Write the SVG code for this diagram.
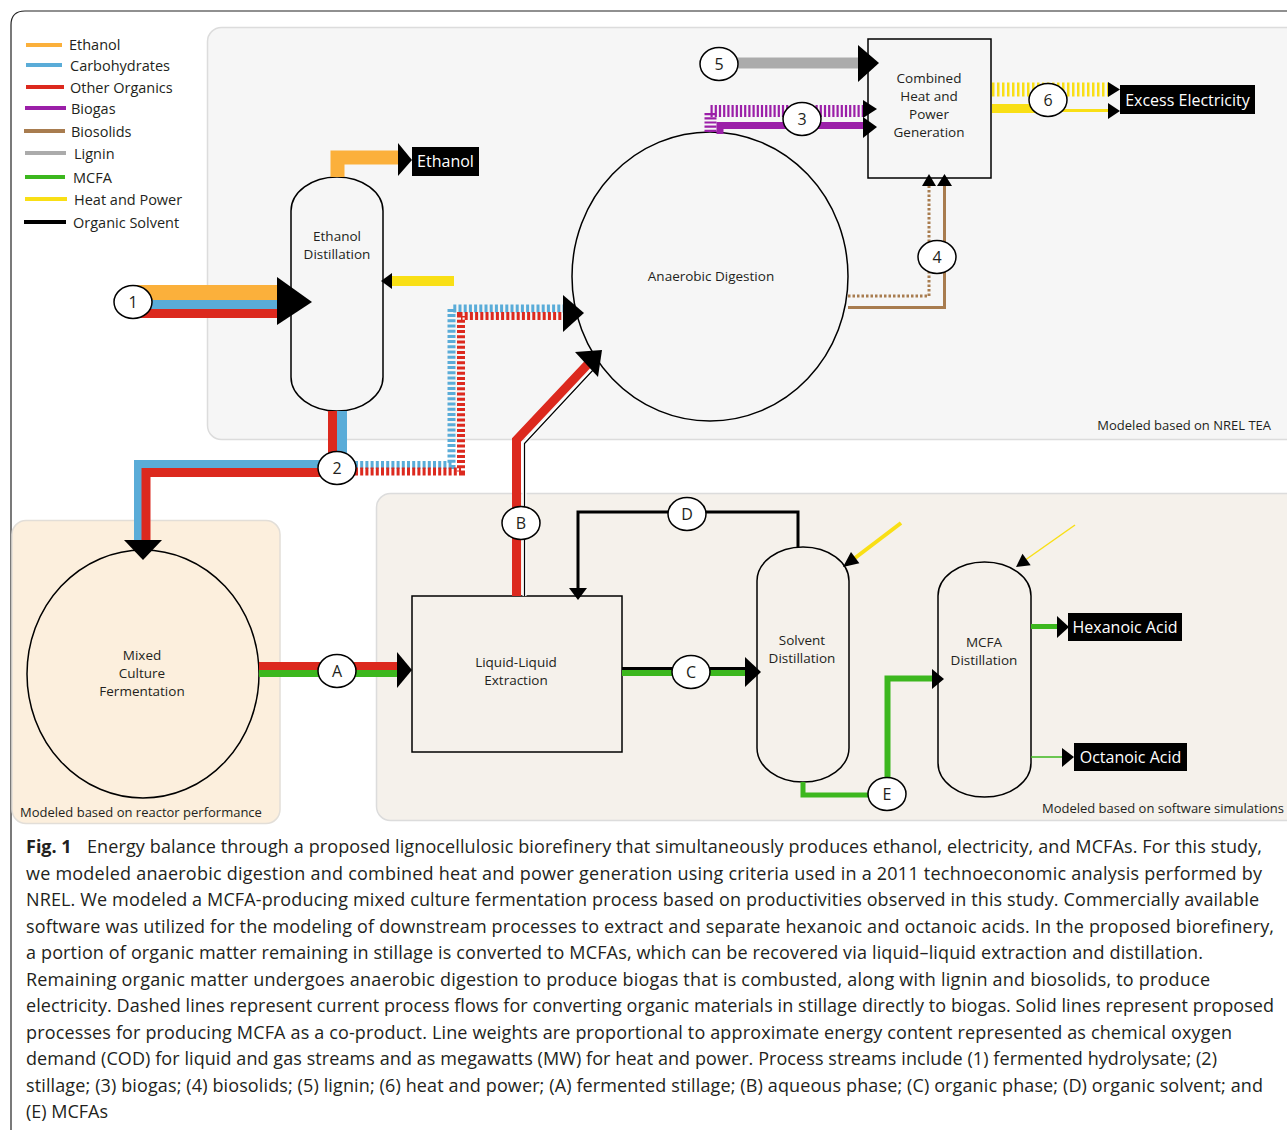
<svg xmlns="http://www.w3.org/2000/svg" width="1287" height="1130" viewBox="0 0 1287 1130">
<defs>
<style>
.t{font-family:"Open Sans","Noto Sans","Liberation Sans",sans-serif;fill:#231f20}
.lab{font-size:13.5px;text-anchor:middle}
.leg{font-size:14.5px}
.num{font-size:16px;text-anchor:middle}
.wb{font-size:16px;fill:#fff}
.cap{font-size:18px}
.node{stroke:#000;stroke-width:1.5}
.tag{fill:#fff;stroke:#000;stroke-width:1.5}
.ar{fill:#000}
.s{fill:none;stroke-linejoin:miter;stroke-linecap:butt}
</style>
</defs>
<rect width="1287" height="1130" fill="#fff"/>
<path d="M11,1130 V25 Q11,11 25,11 H1287" fill="none" stroke="#222" stroke-width="1.2"/>
<g id="panels">
<rect x="207.5" y="27.5" width="1100" height="412" rx="14" fill="#f6f6f6" stroke="#dcdcdc" stroke-width="1.5"/>
<rect x="12" y="520.5" width="268" height="303" rx="14" fill="#fcefdd" stroke="#e2ded8" stroke-width="1.5"/>
<rect x="376.5" y="493.5" width="1000" height="327" rx="14" fill="#f5f1eb" stroke="#dcdcdc" stroke-width="1.5"/>
<text class="t" x="1271" y="430" font-size="13" text-anchor="end">Modeled based on NREL TEA</text>
<text class="t" x="20" y="817" font-size="13">Modeled based on reactor performance</text>
<text class="t" x="1284" y="813" font-size="13" text-anchor="end">Modeled based on software simulations</text>
</g>
<g id="legend">
<g stroke-width="4">
<line x1="26" y1="45" x2="62" y2="45" stroke="#fbb03b"/>
<line x1="26" y1="65" x2="62" y2="65" stroke="#5aacd8"/>
<line x1="26" y1="87" x2="64" y2="87" stroke="#dc291e"/>
<line x1="25" y1="108" x2="66" y2="108" stroke="#9b1fa8"/>
<line x1="24" y1="131" x2="65" y2="131" stroke="#a87c4f"/>
<line x1="25" y1="153" x2="66" y2="153" stroke="#ababab"/>
<line x1="25" y1="177" x2="65" y2="177" stroke="#3cb71e"/>
<line x1="25" y1="199" x2="67" y2="199" stroke="#f9df15"/>
<line x1="24" y1="222" x2="66" y2="222" stroke="#000"/>
</g>
<text class="t leg" x="69" y="50">Ethanol</text>
<text class="t leg" x="70" y="71">Carbohydrates</text>
<text class="t leg" x="70" y="93">Other Organics</text>
<text class="t leg" x="71" y="114">Biogas</text>
<text class="t leg" x="71" y="137">Biosolids</text>
<text class="t leg" x="74" y="159">Lignin</text>
<text class="t leg" x="73" y="183">MCFA</text>
<text class="t leg" x="74" y="205">Heat and Power</text>
<text class="t leg" x="73" y="228">Organic Solvent</text>
</g>
<g id="ethanol-distillation">
<rect class="node" x="291" y="177" width="92" height="234" rx="46" ry="34" fill="#f6f6f6"/>
<text class="t lab" x="337" y="241">Ethanol</text>
<text class="t lab" x="337" y="259">Distillation</text>
</g>
<g id="ethanol-product">
<rect x="412" y="147" width="67" height="29" fill="#000"/>
<text class="t wb" x="445.5" y="167" text-anchor="middle">Ethanol</text>
</g>
<g id="anaerobic-digestion">
<ellipse class="node" cx="710" cy="276.5" rx="138" ry="144.5" fill="#f6f6f6"/>
<text class="t lab" x="711" y="281">Anaerobic Digestion</text>
</g>
<g id="chp">
<rect class="node" x="868" y="39" width="123" height="139" fill="#f6f6f6"/>
<text class="t lab" x="929" y="83">Combined</text>
<text class="t lab" x="929" y="101">Heat and</text>
<text class="t lab" x="929" y="119">Power</text>
<text class="t lab" x="929" y="137">Generation</text>
</g>
<g id="excess-electricity">
<rect x="1120" y="85" width="135" height="29" fill="#000"/>
<text class="t wb" x="1187.5" y="106" text-anchor="middle">Excess Electricity</text>
</g>
<g id="mixed-culture-fermentation">
<ellipse class="node" cx="143" cy="674" rx="116" ry="124" fill="#fcefdd"/>
<text class="t lab" x="142" y="660">Mixed</text>
<text class="t lab" x="142" y="678">Culture</text>
<text class="t lab" x="142" y="696">Fermentation</text>
</g>
<g id="liquid-liquid-extraction">
<rect class="node" x="412" y="596" width="210" height="156" fill="#f5f1eb"/>
<text class="t lab" x="516" y="667">Liquid-Liquid</text>
<text class="t lab" x="516" y="685">Extraction</text>
</g>
<g id="solvent-distillation">
<rect class="node" x="757" y="547" width="92" height="235" rx="46" ry="34" fill="#f5f1eb"/>
<text class="t lab" x="802" y="645">Solvent</text>
<text class="t lab" x="802" y="663">Distillation</text>
</g>
<g id="mcfa-distillation">
<rect class="node" x="938" y="562" width="93" height="235" rx="46.5" ry="34" fill="#f5f1eb"/>
<text class="t lab" x="984" y="647">MCFA</text>
<text class="t lab" x="984" y="665">Distillation</text>
</g>
<g id="hexanoic-acid">
<rect x="1068" y="613" width="114" height="28" fill="#000"/>
<text class="t wb" x="1125" y="633" text-anchor="middle">Hexanoic Acid</text>
</g>
<g id="octanoic-acid">
<rect x="1074" y="743" width="113" height="28" fill="#000"/>
<text class="t wb" x="1130.5" y="763" text-anchor="middle">Octanoic Acid</text>
</g>
<g id="connectors">
<!-- stream 1 -->
<path class="s" d="M135,292.5 H280" stroke="#fbb03b" stroke-width="15"/>
<path class="s" d="M135,304.5 H280" stroke="#5aacd8" stroke-width="9"/>
<path class="s" d="M135,313.5 H280" stroke="#dc291e" stroke-width="9"/>
<polygon class="ar" points="277,277 312,302 277,325"/>
<!-- ethanol out -->
<path class="s" d="M337.5,177 V157.5 H400" stroke="#fbb03b" stroke-width="14"/>
<polygon class="ar" points="398,143 412,160 398,176"/>
<!-- heat to ethanol column -->
<path class="s" d="M391,281 H454" stroke="#f9df15" stroke-width="10"/>
<polygon class="ar" points="392,273 381,281 392,289"/>
<!-- stream 2 -->
<path class="s" d="M332.5,411 V458" stroke="#dc291e" stroke-width="9"/>
<path class="s" d="M342,411 V458" stroke="#5aacd8" stroke-width="10"/>
<path class="s" d="M325,464 H138 V540" stroke="#5aacd8" stroke-width="8"/>
<path class="s" d="M325,472.5 H146 V540" stroke="#dc291e" stroke-width="9"/>
<polygon class="ar" points="124,540 162,540 143,560"/>
<path class="s" d="M355,465 H451.5 V308.5 H563" stroke="#5aacd8" stroke-width="8" stroke-dasharray="3 2.2"/>
<path class="s" d="M355,471.5 H461 V316 H563" stroke="#dc291e" stroke-width="8" stroke-dasharray="3 2.2"/>
<polygon class="ar" points="563,295 584,313 563,332"/>
<!-- stream 5 -->
<path class="s" d="M736,63 H858" stroke="#ababab" stroke-width="11"/>
<polygon class="ar" points="858,45 879,63 858,82"/>
<!-- stream 3 -->
<path class="s" d="M710.5,132 V111 H864" stroke="#9b1fa8" stroke-width="12" stroke-dasharray="2.2 2"/>
<path class="s" d="M720,134 V125.5 H866" stroke="#9b1fa8" stroke-width="7"/>
<polygon class="ar" points="863,100 877,109 863,118"/>
<polygon class="ar" points="863,117 877,127 863,138"/>
<!-- stream 6 -->
<path class="s" d="M992,89.5 H1108" stroke="#f9df15" stroke-width="14" stroke-dasharray="2.5 2.5"/>
<path class="s" d="M992,108.5 H1045" stroke="#f9df15" stroke-width="9"/>
<path class="s" d="M1045,110.5 H1109" stroke="#f9df15" stroke-width="3"/>
<polygon class="ar" points="1108,82 1120,89.5 1108,97"/>
<polygon class="ar" points="1108,103 1120,111 1108,119"/>
<!-- stream 4 -->
<path class="s" d="M848,296 H929 V185" stroke="#a87c4f" stroke-width="3" stroke-dasharray="2.5 2"/>
<path class="s" d="M848,307.5 H944.5 V185" stroke="#a87c4f" stroke-width="3"/>
<polygon class="ar" points="922,186 929,174 936,186"/>
<polygon class="ar" points="937,186 944.5,174 952,186"/>
<!-- stream B -->
<path class="s" d="M524.5,596 V443 L593,370" stroke="#fff" stroke-width="4"/>
<path class="s" d="M524.5,596 V443.5 L594,369" stroke="#000" stroke-width="1.2"/>
<path class="s" d="M516.5,596 V440 L588,364" stroke="#dc291e" stroke-width="9"/>
<polygon class="ar" points="575,352 602,350 598,377"/>
<!-- stream A -->
<path class="s" d="M259,666 H398" stroke="#dc291e" stroke-width="8"/>
<path class="s" d="M259,673.5 H398" stroke="#3cb71e" stroke-width="7"/>
<polygon class="ar" points="397,652 412,670 397,688"/>
<!-- stream C -->
<path class="s" d="M622,668.5 H746" stroke="#000" stroke-width="3"/>
<path class="s" d="M622,673 H746" stroke="#3cb71e" stroke-width="6"/>
<polygon class="ar" points="745,657 761,672 745,687"/>
<!-- stream D -->
<path class="s" d="M798,547 V512 H578 V590" stroke="#000" stroke-width="3"/>
<polygon class="ar" points="569,588 578,600 587,588"/>
<!-- heat to solvent distillation -->
<path class="s" d="M901,523 L855,558" stroke="#f9df15" stroke-width="4"/>
<polygon class="ar" points="843,567 859.4,563.3 851,552"/>
<!-- heat to MCFA distillation -->
<path class="s" d="M1075,525 L1026,559.5" stroke="#f9df15" stroke-width="1.5"/>
<polygon class="ar" points="1016,567 1030.7,565.2 1022.5,553.8"/>
<!-- stream E -->
<path class="s" d="M803,782 V795 H870" stroke="#3cb71e" stroke-width="5"/>
<path class="s" d="M887.5,780 V678.5 H933" stroke="#3cb71e" stroke-width="6"/>
<polygon class="ar" points="932,669 944,679 932,689"/>
<!-- products -->
<path class="s" d="M1031,626.5 H1058" stroke="#3cb71e" stroke-width="5"/>
<polygon class="ar" points="1057,616 1069,627 1057,638"/>
<path class="s" d="M1031,757 H1063" stroke="#3cb71e" stroke-width="1.5"/>
<polygon class="ar" points="1062,748 1074,757 1062,767"/>
<!-- stream tags -->
<g id="stream-tags">
<ellipse class="tag" cx="133" cy="302" rx="19" ry="16.5"/><text class="t num" x="133" y="308">1</text>
<ellipse class="tag" cx="337" cy="468" rx="19" ry="16.5"/><text class="t num" x="337" y="474">2</text>
<ellipse class="tag" cx="802" cy="119" rx="19" ry="16.5"/><text class="t num" x="802" y="125">3</text>
<ellipse class="tag" cx="937" cy="257" rx="19" ry="16.5"/><text class="t num" x="937" y="263">4</text>
<ellipse class="tag" cx="719" cy="64" rx="19" ry="16.5"/><text class="t num" x="719" y="70">5</text>
<ellipse class="tag" cx="1048" cy="100" rx="19" ry="16.5"/><text class="t num" x="1048" y="106">6</text>
<ellipse class="tag" cx="337" cy="671" rx="19" ry="16.5"/><text class="t num" x="337" y="677">A</text>
<ellipse class="tag" cx="521" cy="523" rx="19" ry="16.5"/><text class="t num" x="521" y="529">B</text>
<ellipse class="tag" cx="691" cy="672" rx="19" ry="16.5"/><text class="t num" x="691" y="678">C</text>
<ellipse class="tag" cx="687" cy="514" rx="19" ry="16.5"/><text class="t num" x="687" y="520">D</text>
<ellipse class="tag" cx="887" cy="794" rx="19" ry="16.5"/><text class="t num" x="887" y="800">E</text>
</g>
</g>
<g id="caption">
<text class="t cap" x="26" y="853" font-weight="bold">Fig. 1</text>
<text class="t cap" x="87" y="853" textLength="1175">Energy balance through a proposed lignocellulosic biorefinery that simultaneously produces ethanol, electricity, and MCFAs. For this study,</text>
<text class="t cap" x="26" y="879.5" textLength="1236">we modeled anaerobic digestion and combined heat and power generation using criteria used in a 2011 technoeconomic analysis performed by</text>
<text class="t cap" x="26" y="906" textLength="1233">NREL. We modeled a MCFA-producing mixed culture fermentation process based on productivities observed in this study. Commercially available</text>
<text class="t cap" x="26" y="932.5" textLength="1248">software was utilized for the modeling of downstream processes to extract and separate hexanoic and octanoic acids. In the proposed biorefinery,</text>
<text class="t cap" x="26" y="959" textLength="1177">a portion of organic matter remaining in stillage is converted to MCFAs, which can be recovered via liquid–liquid extraction and distillation.</text>
<text class="t cap" x="26" y="985.5" textLength="1184">Remaining organic matter undergoes anaerobic digestion to produce biogas that is combusted, along with lignin and biosolids, to produce</text>
<text class="t cap" x="26" y="1012" textLength="1248">electricity. Dashed lines represent current process flows for converting organic materials in stillage directly to biogas. Solid lines represent proposed</text>
<text class="t cap" x="26" y="1038.5" textLength="1206">processes for producing MCFA as a co-product. Line weights are proportional to approximate energy content represented as chemical oxygen</text>
<text class="t cap" x="26" y="1065" textLength="1191">demand (COD) for liquid and gas streams and as megawatts (MW) for heat and power. Process streams include (1) fermented hydrolysate; (2)</text>
<text class="t cap" x="26" y="1091.5" textLength="1237">stillage; (3) biogas; (4) biosolids; (5) lignin; (6) heat and power; (A) fermented stillage; (B) aqueous phase; (C) organic phase; (D) organic solvent; and</text>
<text class="t cap" x="26" y="1118">(E) MCFAs</text>
</g>
</svg>
